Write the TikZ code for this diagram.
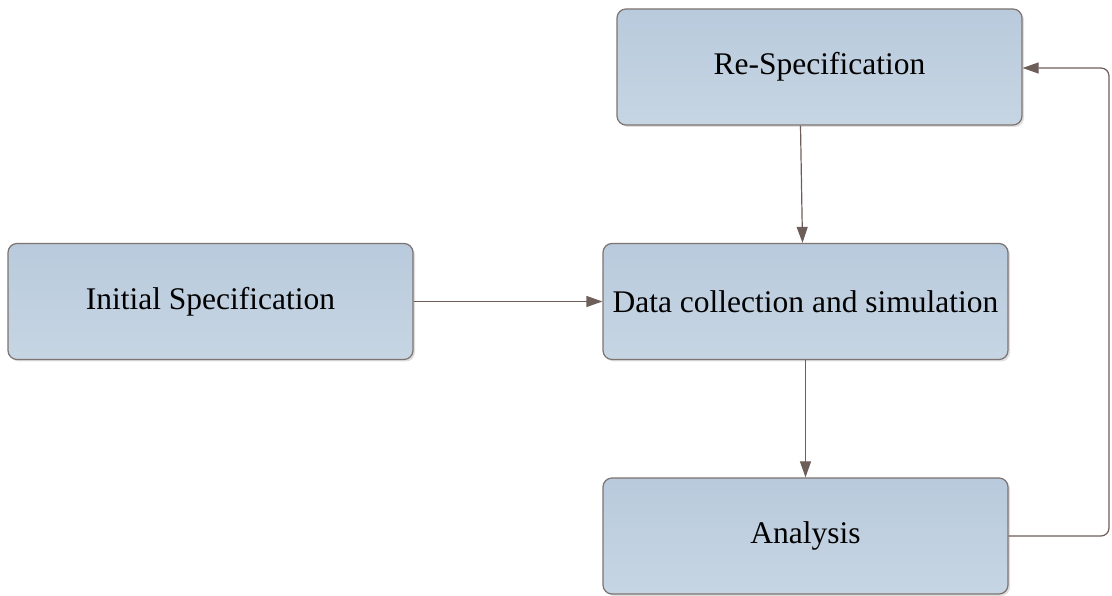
\documentclass[tikz,border=0pt]{standalone}
\usepackage{fontspec}
\setmainfont{Liberation Serif}
\usetikzlibrary{arrows.meta,shadows,positioning}
\definecolor{boxfill}{HTML}{BDCEDE}
\definecolor{boxfilltop}{HTML}{B8CADC}
\definecolor{boxedge}{HTML}{7D7370}
\definecolor{linkcol}{HTML}{6E5E59}
\tikzset{
  stagebox/.style={draw=boxedge, line width=1.2pt, rounded corners=9pt,
    top color=boxfilltop, bottom color=boxfill!85!white,
    minimum width=405pt, minimum height=116pt, inner sep=0pt,
    font=\fontsize{31.5}{36}\selectfont,
    drop shadow={shadow xshift=2pt, shadow yshift=-2pt, opacity=0.25, fill=gray}},
  link/.style={draw=linkcol, line width=1.2pt,
    -{Triangle[length=16pt,width=11pt]}},
}
\begin{document}
\begin{tikzpicture}[x=1pt,y=1pt]
  \useasboundingbox (0,0) rectangle (1112,596);
  \node[stagebox] (respec) at (819.5,529) {Re-Specification};
  \node[stagebox] (init)   at (210.5,294.5) {Initial Specification};
  \node[stagebox] (data)   at (805.5,294.5) {Data collection and simulation};
  \node[stagebox] (anal)   at (805.5,60) {Analysis};
  \coordinate (loopbot) at (1109,60);
  \coordinate (looptop) at (1109,528);
  \draw[link] (init.east) -- (data.west);
  \draw[link] ([xshift=-19pt]respec.south) -- ([xshift=-3pt]data.north);
  \draw[link] (data.south) -- (anal.north);
  \draw[link, rounded corners=8pt] (anal.east) -- (loopbot) -- (looptop) -- (respec.east |- looptop);
\end{tikzpicture}
\end{document}
